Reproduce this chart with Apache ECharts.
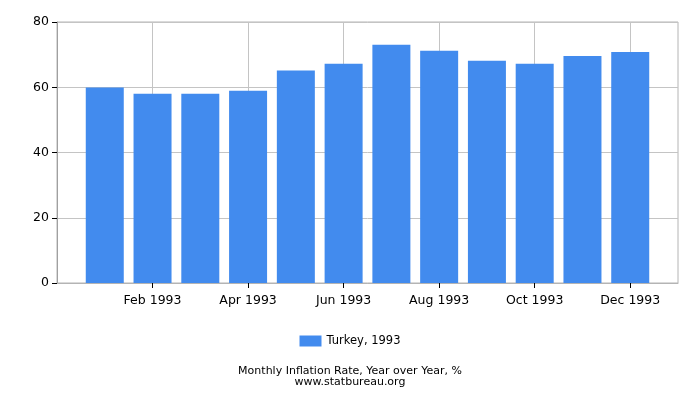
<!DOCTYPE html>
<html>
<head>
<meta charset="utf-8">
<script src="https://cdn.jsdelivr.net/npm/echarts@6/dist/echarts.min.js"></script>
<style>
  html, body { margin: 0; padding: 0; background: #fff; }
  #chart { width: 700px; height: 400px; }
</style>
</head>
<body>
<div id="chart"></div>
<script>
// months of 1993, placed at positions 1..12 on the x axis
var months = ['Jan 1993', 'Feb 1993', 'Mar 1993', 'Apr 1993', 'May 1993', 'Jun 1993',
              'Jul 1993', 'Aug 1993', 'Sep 1993', 'Oct 1993', 'Nov 1993', 'Dec 1993'];
var turkey1993 = [59.9, 58.0, 58.0, 58.9, 65.1, 67.2, 73.0, 71.2, 68.1, 67.2, 69.6, 70.8];
var yTicks = [0, 20, 40, 60, 80];
var labelledMonths = [2, 4, 6, 8, 10, 12];   // Feb, Apr, Jun ...

var font = 'DejaVu Sans';

var option = {
  backgroundColor: '#ffffff',
  animation: false,
  textStyle: { fontFamily: font },
  grid: {
    left: 57,
    right: 22,
    top: 22,
    bottom: 117,
    show: true,
    borderColor: '#b4b4b4',
    borderWidth: 1
  },
  xAxis: {
    type: 'value',
    min: 0,
    max: months.length + 1,
    interval: 2,
    axisLine: { show: true, lineStyle: { color: '#b4b4b4' } },
    axisTick: {
      show: true,
      length: 5,
      customValues: labelledMonths,
      lineStyle: { color: '#000' }
    },
    axisLabel: {
      customValues: labelledMonths,
      color: '#000',
      fontSize: 12.5,
      fontFamily: font,
      margin: 11,
      formatter: function (v) { return months[v - 1] || ''; }
    },
    splitLine: { show: true, lineStyle: { color: '#c4c4c4' } }
  },
  yAxis: {
    type: 'value',
    min: yTicks[0],
    max: yTicks[yTicks.length - 1],
    interval: 20,
    axisLine: { show: true, lineStyle: { color: '#a0a0a0' } },
    axisTick: { show: true, length: 5, lineStyle: { color: '#000' } },
    axisLabel: { color: '#000', fontSize: 12.5, fontFamily: font, margin: 8 },
    splitLine: { show: true, lineStyle: { color: '#c4c4c4' } }
  },
  legend: {
    top: 330,
    left: 'center',
    itemWidth: 22,
    itemHeight: 11,
    itemGap: 4,
    icon: 'rect',
    textStyle: { color: '#000', fontSize: 11.5, fontFamily: font },
    data: ['Turkey, 1993']
  },
  title: {
    text: 'Monthly Inflation Rate, Year over Year, %\nwww.statbureau.org',
    left: 'center',
    top: 361,
    textStyle: { color: '#000', fontSize: 11, fontWeight: 'normal', lineHeight: 10.5, fontFamily: font }
  },
  series: [
    {
      name: 'Turkey, 1993',
      type: 'bar',
      barWidth: 38,
      itemStyle: { color: '#428bee' },
      data: turkey1993.map(function (v, i) { return [i + 1, v]; })
    }
  ]
};

var chart = echarts.init(document.getElementById('chart'));
chart.setOption(option);
</script>
</body>
</html>
